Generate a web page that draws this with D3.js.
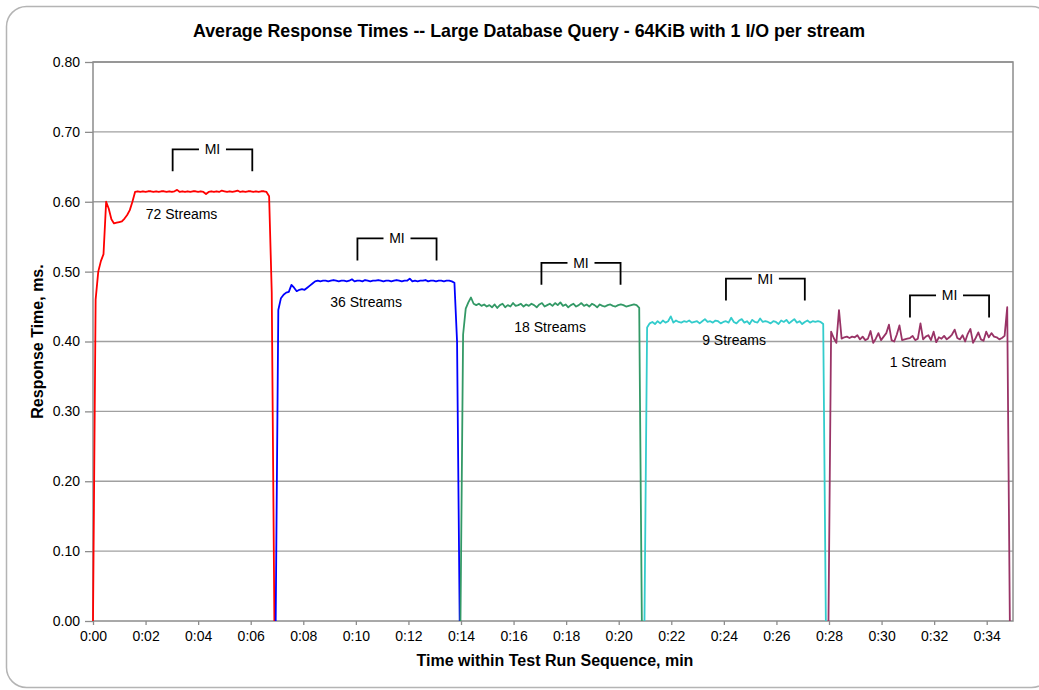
<!DOCTYPE html>
<html>
<head>
<meta charset="utf-8">
<script src="https://cdn.jsdelivr.net/npm/d3@7/dist/d3.min.js"></script>
<style>
  body { margin: 0; background: #fff; }
  svg { display: block; }
  text { font-family: "Liberation Sans", Arial, sans-serif; fill: #000; }
</style>
</head>
<body>
<svg id="chart" width="1039" height="690"></svg>
<script>
// ---- data ----
const streamLabels = ["72 Streams", "36 Streams", "18 Streams", "9 Streams", "1 Stream"];
const sampleStep = 0.1;                                  // minutes between samples
const seriesStart = [0.00, 6.95, 13.98, 20.98, 27.98];  // first sample of each run, min

const rt72 = [
  0, 0.46, 0.50, 0.515, 0.525, 0.600, 0.590, 0.575, 0.569, 0.570,
  0.571, 0.572, 0.576, 0.581, 0.588, 0.600, 0.614,
  0.615, 0.614, 0.615, 0.614, 0.615, 0.615, 0.614, 0.615, 0.614, 0.615,
  0.615, 0.614, 0.615, 0.614, 0.615, 0.617, 0.614, 0.615, 0.614, 0.615,
  0.614, 0.615, 0.615, 0.614, 0.615, 0.614, 0.611, 0.614, 0.615, 0.614,
  0.615, 0.614, 0.616, 0.615, 0.614, 0.615, 0.614, 0.615, 0.616, 0.614,
  0.615, 0.614, 0.615, 0.615, 0.614, 0.615, 0.614, 0.615, 0.615,
  0.614, 0.608, 0.47, 0
];
const rt36 = [
  0, 0.445, 0.462, 0.467, 0.470, 0.471, 0.481, 0.477, 0.472, 0.474,
  0.475, 0.474, 0.477, 0.480, 0.483, 0.486,
  0.487, 0.486, 0.487, 0.487, 0.486, 0.487, 0.488, 0.487, 0.486, 0.487,
  0.487, 0.486, 0.487, 0.489, 0.486, 0.487, 0.487, 0.486, 0.488, 0.487,
  0.486, 0.487, 0.487, 0.488, 0.487, 0.486, 0.487, 0.487, 0.486, 0.487,
  0.488, 0.487, 0.486, 0.487, 0.487, 0.490, 0.486, 0.487, 0.486, 0.487,
  0.487, 0.488, 0.486, 0.487, 0.487, 0.486, 0.487, 0.487, 0.486, 0.487,
  0.487, 0.486,
  0.484, 0.40, 0
];
const rt18 = [
  0, 0.41, 0.447, 0.456, 0.463, 0.454,
  0.452, 0.454, 0.451, 0.453, 0.450, 0.452, 0.449, 0.453, 0.448, 0.452,
  0.454, 0.449, 0.452, 0.450, 0.455, 0.451, 0.452, 0.454, 0.450, 0.453,
  0.451, 0.454, 0.452, 0.449, 0.453, 0.455, 0.450, 0.452, 0.454, 0.451,
  0.455, 0.452, 0.456, 0.451, 0.453, 0.449, 0.452, 0.454, 0.450, 0.452,
  0.455, 0.451, 0.453, 0.450, 0.454, 0.452, 0.449, 0.453, 0.451, 0.450,
  0.452, 0.453, 0.451, 0.450, 0.452, 0.453, 0.452, 0.450, 0.451, 0.452,
  0.453,
  0.452, 0.448, 0
];
const rt9 = [
  0, 0.420, 0.426, 0.428,
  0.425, 0.429, 0.426, 0.430, 0.427, 0.429, 0.436, 0.427, 0.430, 0.428,
  0.427, 0.429, 0.428, 0.430, 0.427, 0.428, 0.429, 0.426, 0.429, 0.432,
  0.428, 0.429, 0.427, 0.430, 0.429, 0.426, 0.428, 0.429, 0.427, 0.434,
  0.428, 0.426, 0.430, 0.432, 0.427, 0.429, 0.425, 0.431, 0.428, 0.427,
  0.433, 0.428, 0.429, 0.428, 0.426, 0.429, 0.428, 0.425, 0.430, 0.428,
  0.431, 0.426, 0.429, 0.432, 0.427, 0.429, 0.425, 0.428, 0.430, 0.427,
  0.429, 0.428, 0.429,
  0.428, 0.425, 0
];
const rt1 = [
  0, 0.414, 0.405, 0.398, 0.445, 0.404, 0.406, 0.407, 0.405, 0.407,
  0.406, 0.409, 0.403, 0.407, 0.402, 0.404, 0.415, 0.398, 0.404, 0.412,
  0.402, 0.407, 0.412, 0.424, 0.402, 0.400, 0.410, 0.423, 0.402, 0.403,
  0.404, 0.405, 0.408, 0.402, 0.404, 0.426, 0.403, 0.407, 0.409, 0.402,
  0.414, 0.399, 0.406, 0.404, 0.408, 0.403, 0.406, 0.410, 0.417, 0.405,
  0.403, 0.409, 0.400, 0.411, 0.418, 0.398, 0.405, 0.413, 0.403, 0.401,
  0.414, 0.406, 0.412, 0.407, 0.406, 0.403, 0.405, 0.408, 0.449, 0
];
const seriesValues = [rt72, rt36, rt18, rt9, rt1];
const seriesColors = ["#ff0000", "#0000ff", "#339966", "#33cccc", "#993366"];

// measurement-interval brackets and run labels (time in min, level in ms)
const miStart = [3.03, 10.06, 17.06, 24.08, 31.08];
const miEnd   = [6.06, 13.07, 20.07, 27.08, 34.09];
const miLevel = [0.675, 0.5475, 0.5126, 0.490, 0.466];
const labelTime  = [3.37, 10.39, 17.39, 24.39, 31.39];
const labelLevel = [0.583, 0.457, 0.421, 0.402, 0.371];

const yTickValues = [0, 0.1, 0.2, 0.3, 0.4, 0.5, 0.6, 0.7, 0.8];
const xTickValues = [0, 2, 4, 6, 8, 10, 12, 14, 16, 18, 20, 22, 24, 26, 28, 30, 32, 34];
const xTickLabels = ["0:00", "0:02", "0:04", "0:06", "0:08", "0:10", "0:12", "0:14", "0:16",
                     "0:18", "0:20", "0:22", "0:24", "0:26", "0:28", "0:30", "0:32", "0:34"];

// ---- layout ----
const svg = d3.select("#chart");
const plot = { left: 93, right: 1013, top: 62, bottom: 621 };
const x = d3.scaleLinear().domain([0, 35]).range([plot.left, plot.right]);
const y = d3.scaleLinear().domain([0, 0.8]).range([plot.bottom, plot.top]);

// outer rounded frame
svg.append("rect")
  .attr("x", 6.5).attr("y", 6.5).attr("width", 1045).attr("height", 681)
  .attr("rx", 20).attr("ry", 20)
  .attr("fill", "#fff").attr("stroke", "#b4b4b4").attr("stroke-width", 1.5);

// gridlines
svg.append("g").selectAll("line")
  .data(yTickValues.filter(v => v > 0))
  .join("line")
  .attr("x1", plot.left).attr("x2", plot.right)
  .attr("y1", d => y(d)).attr("y2", d => y(d))
  .attr("stroke", "#a0a0a0").attr("stroke-width", 1.3);

// plot frame
svg.append("rect")
  .attr("x", plot.left).attr("y", plot.top)
  .attr("width", plot.right - plot.left).attr("height", plot.bottom - plot.top)
  .attr("fill", "none").attr("stroke", "#8c8c8c").attr("stroke-width", 1.5);

// y axis
const yAxis = svg.append("g")
  .attr("transform", `translate(${plot.left},0)`)
  .call(d3.axisLeft(y).tickValues(yTickValues).tickFormat(d3.format(".2f"))
    .tickSize(8).tickPadding(5));
yAxis.select(".domain").remove();
yAxis.selectAll(".tick line").attr("stroke", "#8c8c8c").attr("stroke-width", 1.3);
yAxis.selectAll(".tick text").attr("font-size", 14).attr("fill", "#000")
  .style("font-family", '"Liberation Sans", Arial, sans-serif');

// x axis
const xAxis = svg.append("g")
  .attr("transform", `translate(0,${plot.bottom})`)
  .call(d3.axisBottom(x).tickValues(xTickValues).tickFormat((d, i) => xTickLabels[i])
    .tickSize(4).tickPadding(6));
xAxis.select(".domain").remove();
xAxis.selectAll(".tick line").attr("stroke", "#8c8c8c").attr("stroke-width", 1.3);
xAxis.selectAll(".tick text").attr("font-size", 14).attr("fill", "#000")
  .style("font-family", '"Liberation Sans", Arial, sans-serif');

// series lines
const line = d3.line().x(d => x(d.t)).y(d => y(d.v));
seriesValues.forEach((vals, s) => {
  const pts = vals.map((v, i) => ({ t: seriesStart[s] + i * sampleStep, v }));
  svg.append("path")
    .datum(pts)
    .attr("d", line)
    .attr("fill", "none")
    .attr("stroke", seriesColors[s])
    .attr("stroke-width", 1.8)
    .attr("stroke-linejoin", "round");
});

// run labels
svg.append("g").selectAll("text")
  .data(streamLabels)
  .join("text")
  .attr("x", (d, i) => x(labelTime[i]))
  .attr("y", (d, i) => y(labelLevel[i]))
  .attr("dy", "0.35em")
  .attr("text-anchor", "middle")
  .attr("font-size", 14)
  .text(d => d);

// MI brackets
const miDrop = 22, miGap = 13.5;
miStart.forEach((t0, i) => {
  const x0 = x(t0), x1 = x(miEnd[i]), yy = y(miLevel[i]), xm = (x0 + x1) / 2;
  const g = svg.append("g").attr("fill", "none").attr("stroke", "#000").attr("stroke-width", 1.8);
  g.append("path").attr("d", `M${x0},${yy + miDrop}V${yy}H${xm - miGap}`);
  g.append("path").attr("d", `M${x1},${yy + miDrop}V${yy}H${xm + miGap}`);
  svg.append("text")
    .attr("x", xm).attr("y", yy).attr("dy", "0.35em")
    .attr("text-anchor", "middle").attr("font-size", 14)
    .text("MI");
});

// titles
svg.append("text")
  .attr("x", 529).attr("y", 31).attr("dy", "0.35em")
  .attr("text-anchor", "middle").attr("font-size", 17.8).attr("font-weight", "bold")
  .text("Average Response Times -- Large Database Query - 64KiB with 1 I/O per stream");

svg.append("text")
  .attr("x", (plot.left + plot.right) / 2 + 2).attr("y", 660).attr("dy", "0.35em")
  .attr("text-anchor", "middle").attr("font-size", 16).attr("font-weight", "bold")
  .text("Time within Test Run Sequence, min");

svg.append("text")
  .attr("transform", `translate(37,${(plot.top + plot.bottom) / 2}) rotate(-90)`)
  .attr("dy", "0.35em")
  .attr("text-anchor", "middle").attr("font-size", 16).attr("font-weight", "bold")
  .text("Response Time, ms.");
</script>
</body>
</html>
